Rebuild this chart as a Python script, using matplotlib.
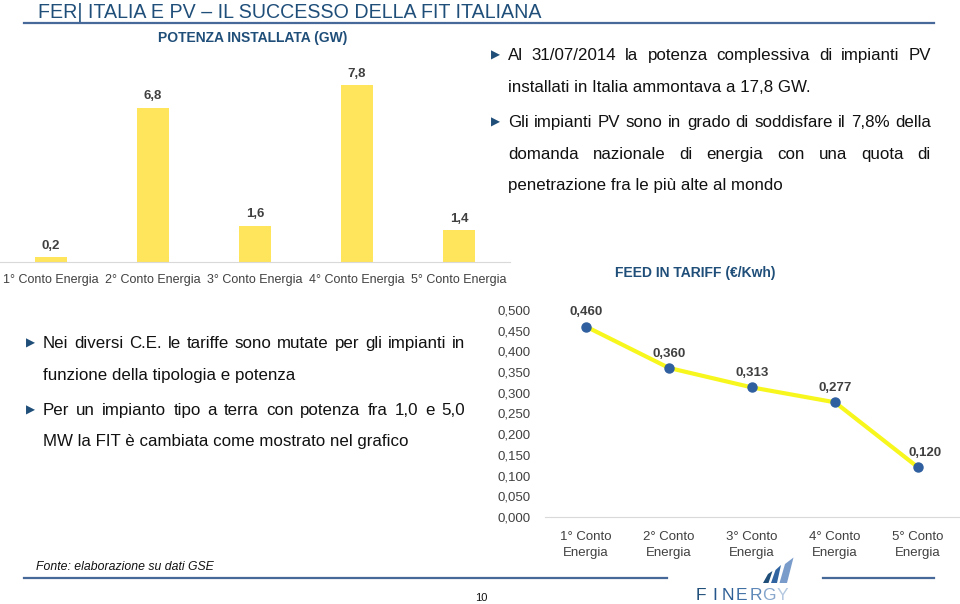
import matplotlib.pyplot as plt
import numpy as np
from matplotlib.ticker import MultipleLocator, FuncFormatter
from matplotlib.patches import Polygon

plt.rcParams['font.family'] = ['Liberation Sans', 'DejaVu Sans']

W, H = 960, 604

# dati
conti = ['1° Conto Energia', '2° Conto Energia', '3° Conto Energia',
         '4° Conto Energia', '5° Conto Energia']
potenza_gw = [0.2, 6.8, 1.6, 7.8, 1.4]

conti_fit = ['1° Conto\nEnergia', '2° Conto\nEnergia', '3° Conto\nEnergia',
             '4° Conto\nEnergia', '5° Conto\nEnergia']
tariffa = [0.460, 0.360, 0.313, 0.277, 0.120]

BLUE = '#1f4e79'
RULE = '#46699a'
BAR_Y = '#ffe55c'
LINE_Y = '#f7f71e'
DOT = '#2f5f9f'
GRID = '#d9d9d9'
TXT = '#404040'
BODY = '#111111'


def comma(v, d):
    return f"{v:.{d}f}".replace('.', ',')


fig = plt.figure(figsize=(9.6, 6.04), dpi=100)

# sfondo in pixel (origine in alto a sinistra)
bg = fig.add_axes([0, 0, 1, 1])
bg.set_xlim(0, W)
bg.set_ylim(H, 0)
bg.axis('off')


def px_axes(x0, y0, x1, y1):
    a = fig.add_axes([x0 / W, 1 - y1 / H, (x1 - x0) / W, (y1 - y0) / H])
    a.patch.set_alpha(0)
    return a


# titolo e righe
bg.text(38, 12.5, 'FER| ITALIA E PV – IL SUCCESSO DELLA FIT ITALIANA',
        fontsize=14.1, color=BLUE, va='center')
bg.plot([24, 934], [22.5, 22.5], color=RULE, lw=1.6)
bg.plot([24, 667], [578, 578], color=RULE, lw=1.6)
bg.plot([823, 934], [578, 578], color=RULE, lw=1.6)

# grafico a barre
ax = px_axes(0, 58, 510, 262)
x = np.arange(len(conti))
bars = ax.bar(x, potenza_gw, width=0.31, color=BAR_Y)
ax.bar_label(bars, labels=[comma(v, 1) for v in potenza_gw], padding=4,
             fontsize=9.5, fontweight='bold', color=TXT)
ax.set_xlim(-0.5, 4.5)
ax.set_ylim(0, 9)
ax.set_xticks(x)
ax.set_xticklabels(conti, fontsize=9, color=TXT)
ax.tick_params(axis='x', length=0, pad=9)
ax.set_yticks([])
for s in ['top', 'left', 'right']:
    ax.spines[s].set_visible(False)
ax.spines['bottom'].set_color(GRID)
bg.text(253, 38, 'POTENZA INSTALLATA (GW)', fontsize=10, fontweight='bold',
        color=BLUE, ha='center', va='center')

# grafico a linee
ax2 = px_axes(544.5, 310, 959.5, 517)
xi = np.arange(len(conti_fit))
ax2.plot(xi, tariffa, color=LINE_Y, lw=3, zorder=2)
ax2.plot(xi, tariffa, 'o', color=DOT, ms=6.5, zorder=3)
for i, v in enumerate(tariffa):
    dx = 5 if i == len(tariffa) - 1 else 0
    ax2.annotate(comma(v, 3), (i, v), xytext=(dx, 6), textcoords='offset points',
                 ha='center', va='bottom', fontsize=9.5, fontweight='bold', color=TXT)
ax2.set_xlim(-0.5, 4.5)
ax2.set_ylim(0, 0.5)
ax2.yaxis.set_major_locator(MultipleLocator(0.05))
ax2.yaxis.set_major_formatter(FuncFormatter(lambda v, p: comma(v, 3)))
ax2.set_xticks(xi)
ax2.set_xticklabels(conti_fit, fontsize=9.5, color=TXT, linespacing=1.45)
ax2.tick_params(axis='y', length=0, pad=10, labelsize=9.5, labelcolor=TXT)
ax2.tick_params(axis='x', length=0, pad=10)
for s in ['top', 'left', 'right']:
    ax2.spines[s].set_visible(False)
ax2.spines['bottom'].set_color(GRID)
bg.text(695, 273, 'FEED IN TARIFF (€/Kwh)', fontsize=10, fontweight='bold',
        color=BLUE, ha='center', va='center')

# testi
renderer = fig.canvas.get_renderer()
FS = 12.2
BASE = 5


def justify(line, x0, x1, y):
    words = line.split()
    widths = []
    for w in words:
        t = bg.text(0, 0, w, fontsize=FS)
        widths.append(t.get_window_extent(renderer).width)
        t.remove()
    gap = (x1 - x0 - sum(widths)) / (len(words) - 1)
    xx = x0
    for w, wd in zip(words, widths):
        bg.text(xx, y + BASE, w, fontsize=FS, va='baseline', color=BODY)
        xx += wd + gap


def plain(line, x0, y):
    bg.text(x0, y + BASE, line, fontsize=FS, va='baseline', color=BODY)


def bullet(xb, y):
    bg.text(xb, y, '▶', fontsize=8.5, color=BLUE, va='center', ha='center',
            family=['DejaVu Sans'])


bullet(495, 55)
justify('Al 31/07/2014 la potenza complessiva di impianti PV', 508, 931, 55)
plain('installati in Italia ammontava a 17,8 GW.', 508, 87)
bullet(495, 122)
justify('Gli impianti PV sono in grado di soddisfare il 7,8% della', 508, 931, 122)
justify('domanda nazionale di energia con una quota di', 508, 931, 154)
plain('penetrazione fra le più alte al mondo', 508, 185)

bullet(30, 343)
justify('Nei diversi C.E. le tariffe sono mutate per gli impianti in', 43, 465, 343)
plain('funzione della tipologia e potenza', 43, 375)
bullet(30, 410)
justify('Per un impianto tipo a terra con potenza fra 1,0 e 5,0', 43, 465, 410)
plain('MW la FIT è cambiata come mostrato nel grafico', 43, 441)

# piè di pagina
bg.text(36, 567, 'Fonte: elaborazione su dati GSE', fontsize=8.8, style='italic',
        color=BODY, va='center')
bg.text(481, 598, '10', fontsize=8, color=BODY, ha='center', va='center')

# logo
sails = [
    ([(763, 583), (768.5, 583), (772.5, 571), (768, 574)], '#1f4e79'),
    ([(771, 583), (777, 583), (781, 565), (775.5, 570)], '#2f64a0'),
    ([(779.5, 583), (787, 583), (793.5, 557.5), (785, 564)], '#7a9ccb'),
]
for pts, c in sails:
    bg.add_patch(Polygon(pts, closed=True, color=c, lw=0))
letter_cols = ['#1f4e79', '#24558a', '#2d5f95', '#3f6fa3', '#5d88b8', '#86a6cc', '#b4c8e0']
for k, (ch, c) in enumerate(zip('FINERGY', letter_cols)):
    bg.text(701 + k * 13.6, 595, ch, fontsize=12.5, color=c, ha='center', va='center')

fig.savefig('out.png', dpi=100)
